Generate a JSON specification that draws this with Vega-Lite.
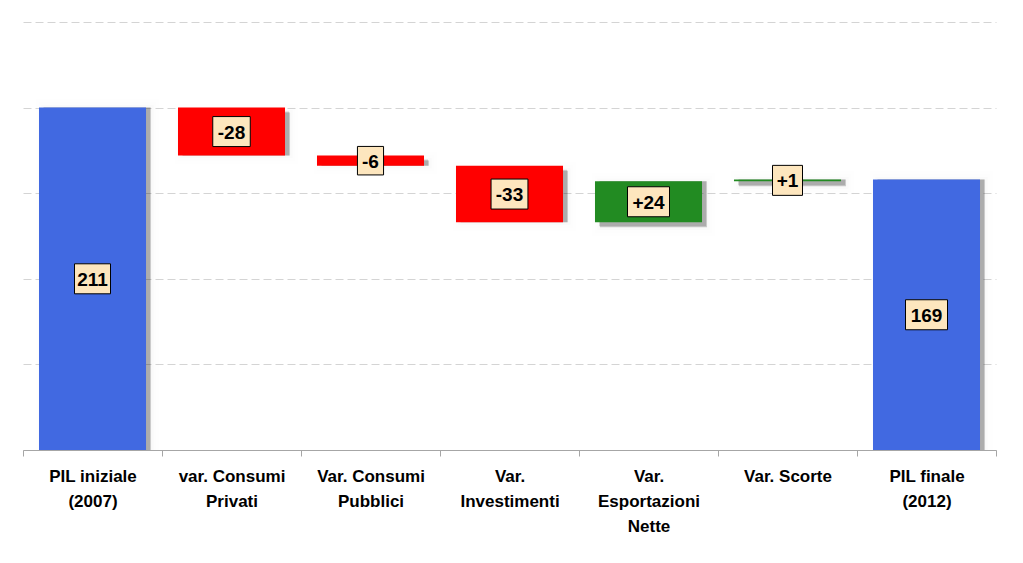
{
  "$schema": "https://vega.github.io/schema/vega-lite/v6.json",
  "width": 973,
  "height": 428,
  "autosize": "none",
  "padding": {"left": 23, "top": 22, "right": 27, "bottom": 113},
  "background": "white",
  "config": {"view": {"stroke": null}},
  "data": {
    "values": [
      {"cat": "PIL iniziale|(2007)", "label": "211", "start": 0, "end": 211, "kind": "total"},
      {"cat": "var. Consumi|Privati", "label": "-28", "start": 211, "end": 183, "kind": "neg"},
      {"cat": "Var. Consumi|Pubblici", "label": "-6", "start": 183, "end": 177, "kind": "neg"},
      {"cat": "Var.|Investimenti", "label": "-33", "start": 177, "end": 144, "kind": "neg"},
      {"cat": "Var.|Esportazioni|Nette", "label": "+24", "start": 144, "end": 168, "kind": "pos"},
      {"cat": "Var. Scorte", "label": "+1", "start": 168, "end": 169, "kind": "pos"},
      {"cat": "PIL finale|(2012)", "label": "169", "start": 0, "end": 169, "kind": "total"}
    ]
  },
  "transform": [
    {"calculate": "(max(datum.start, 11) + datum.end) / 2", "as": "mid"}
  ],
  "encoding": {
    "x": {
      "field": "cat", "type": "nominal", "sort": null,
      "scale": {"paddingInner": 0, "paddingOuter": 0},
      "axis": {
        "title": null, "labelAngle": 0,
        "labelExpr": "isValid(datum.value) ? split(datum.value, '|') : ''",
        "labelFont": "Liberation Sans", "labelFontSize": 17, "labelFontWeight": "bold",
        "labelColor": "#000000", "labelLineHeight": 25, "labelPadding": 12,
        "tickBand": "extent", "tickSize": 6, "tickColor": "#a6a6a6",
        "domainColor": "#a6a6a6", "domainWidth": 1, "grid": false
      }
    }
  },
  "layer": [
    {
      "mark": {"type": "bar", "clip": true, "width": {"band": 0.77}, "color": "#000000", "opacity": 0.04, "stroke": "#000000", "strokeWidth": 16, "strokeOpacity": 0.04, "xOffset": 5, "yOffset": 5},
      "encoding": {
        "y": {"field": "start", "type": "quantitative", "scale": {"domain": [11, 261], "zero": false, "nice": false},
              "axis": {"title": null, "labels": false, "ticks": false, "domain": false, "grid": true,
                       "values": [11, 61, 111, 161, 211, 261], "gridColor": "#d4d4d4", "gridDash": [8, 4], "gridWidth": 1}},
        "y2": {"field": "end"}
      }
    },
    {
      "mark": {"type": "bar", "clip": true, "width": {"band": 0.77}, "color": "#000000", "opacity": 0.06, "stroke": "#000000", "strokeWidth": 10, "strokeOpacity": 0.06, "xOffset": 5, "yOffset": 5},
      "encoding": {
        "y": {"field": "start", "type": "quantitative"},
        "y2": {"field": "end"}
      }
    },
    {
      "mark": {"type": "bar", "clip": true, "width": {"band": 0.77}, "color": "#000000", "opacity": 0.1, "stroke": "#000000", "strokeWidth": 5, "strokeOpacity": 0.1, "xOffset": 5, "yOffset": 5},
      "encoding": {
        "y": {"field": "start", "type": "quantitative"},
        "y2": {"field": "end"}
      }
    },
    {
      "mark": {"type": "bar", "clip": true, "width": {"band": 0.77}, "color": "#000000", "opacity": 0.15, "xOffset": 4, "yOffset": 4},
      "encoding": {
        "y": {"field": "start", "type": "quantitative"},
        "y2": {"field": "end"}
      }
    },
    {
      "mark": {"type": "bar", "clip": true, "width": {"band": 0.77}},
      "encoding": {
        "y": {"field": "start", "type": "quantitative"},
        "y2": {"field": "end"},
        "color": {"field": "kind", "type": "nominal", "legend": null,
                  "scale": {"domain": ["total", "neg", "pos"], "range": ["#4169E1", "#FF0000", "#228B22"]}}
      }
    },
    {
      "mark": {"type": "point", "filled": true, "size": 900, "fill": "#FDE6BE", "stroke": "#000000", "strokeWidth": 1, "opacity": 1},
      "encoding": {
        "y": {"field": "mid", "type": "quantitative"},
        "shape": {"field": "label", "type": "nominal", "legend": null,
          "scale": {
            "domain": ["211", "-28", "-6", "-33", "+24", "+1", "169"],
            "range": [
              "M-1.2,-1L1.2,-1L1.2,1L-1.2,1Z",
              "M-1.25,-1L1.25,-1L1.25,1L-1.25,1Z",
              "M-0.87,-0.95L0.87,-0.95L0.87,0.95L-0.87,0.95Z",
              "M-1.23,-1L1.23,-1L1.23,1L-1.23,1Z",
              "M-1.4,-1L1.4,-1L1.4,1L-1.4,1Z",
              "M-1,-1L1,-1L1,1L-1,1Z",
              "M-1.4,-1L1.4,-1L1.4,1L-1.4,1Z"
            ]
          }
        }
      }
    },
    {
      "mark": {"type": "text", "font": "Liberation Sans", "fontSize": 19, "fontWeight": "bold", "color": "#000000", "baseline": "middle", "align": "center", "dy": 1},
      "encoding": {
        "y": {"field": "mid", "type": "quantitative"},
        "text": {"field": "label"}
      }
    }
  ]
}
